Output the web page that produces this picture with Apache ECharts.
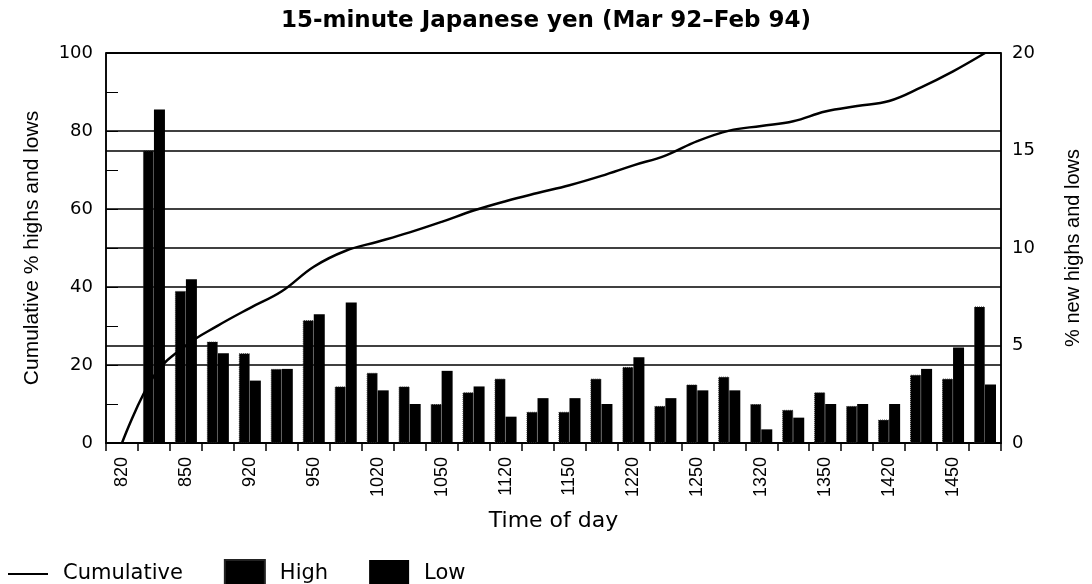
<!DOCTYPE html>
<html>
<head>
<meta charset="utf-8">
<script src="https://cdn.jsdelivr.net/npm/echarts@6/dist/echarts.min.js"></script>
<style>
html,body{margin:0;padding:0;background:#fff;}
#c{width:1092px;height:584px;}
</style>
</head>
<body>
<div id="c"></div>
<script>
// ---- data ----
var title = '15-minute Japanese yen (Mar 92\u2013Feb 94)';
var times = ['820','835','850','905','920','935','950','1005','1020','1035','1050','1105','1120','1135','1150','1205','1220','1235','1250','1305','1320','1335','1350','1405','1420','1435','1450','1505'];
var cumulative = [0, 17.2, 25.0, 30.1, 34.6, 38.9, 45.2, 49.3, 51.6, 54.0, 56.7, 59.6, 62.0, 64.1, 66.1, 68.5, 71.2, 73.7, 77.4, 80.1, 81.3, 82.5, 85.0, 86.4, 87.7, 91.2, 95.3, 100];
var high = [null, 15.0, 7.8, 5.2, 4.6, 3.8, 6.3, 2.9, 3.6, 2.9, 2.0, 2.6, 3.3, 1.6, 1.6, 3.3, 3.9, 1.9, 3.0, 3.4, 2.0, 1.7, 2.6, 1.9, 1.2, 3.5, 3.3, 7.0];
var low = [null, 17.1, 8.4, 4.6, 3.2, 3.8, 6.6, 7.2, 2.7, 2.0, 3.7, 2.9, 1.35, 2.3, 2.3, 2.0, 4.4, 2.3, 2.7, 2.7, 0.7, 1.3, 2.0, 2.0, 2.0, 3.8, 4.9, 3.0];
var leftTicks = [0, 20, 40, 60, 80, 100];
var rightTicks = [0, 5, 10, 15, 20];

var FONT = 'DejaVu Sans';
var ROT = 'Liberation Sans';
var chart = echarts.init(document.getElementById('c'), null, {renderer: 'canvas'});
chart.setOption({
  backgroundColor: '#fff',
  animation: false,
  title: {
    text: title, left: 'center', top: 5,
    textStyle: {fontFamily: FONT, fontWeight: 'bold', fontSize: 23, color: '#000'}
  },
  legend: {
    left: 3, top: 554, itemWidth: 40, itemHeight: 28, itemGap: 41,
    textStyle: {fontFamily: FONT, fontSize: 21, color: '#000', padding: [0, 0, 0, 10]},
    data: [
      {name: 'Cumulative', icon: 'path://M0,0 L40,0 L40,2 L0,2 Z'},
      {name: 'High', icon: 'rect'},
      {name: 'Low', icon: 'rect'}
    ]
  },
  grid: {
    left: 106, right: 91, top: 53, bottom: 141,
    show: true, borderColor: '#000', borderWidth: 1.5, backgroundColor: 'transparent'
  },
  xAxis: {
    type: 'category', data: times, boundaryGap: true,
    name: 'Time of day', nameLocation: 'middle', nameGap: 67,
    nameTextStyle: {fontFamily: FONT, fontSize: 22, color: '#000'},
    axisLine: {lineStyle: {color: '#000', width: 1.5}},
    axisTick: {show: true, interval: 0, length: 8, lineStyle: {color: '#000', width: 1.5}},
    axisLabel: {interval: 1, rotate: 90, margin: 14, fontFamily: ROT, fontSize: 18, color: '#000'},
    splitLine: {show: false}
  },
  yAxis: [
    {
      type: 'value', position: 'left', min: leftTicks[0], max: leftTicks[leftTicks.length - 1],
      interval: leftTicks[1] - leftTicks[0],
      name: 'Cumulative % highs and lows', nameLocation: 'middle', nameGap: 63, nameRotate: 90,
      nameTextStyle: {fontFamily: ROT, fontSize: 21, color: '#000'},
      axisLine: {show: true, lineStyle: {color: '#000', width: 1.5}},
      axisTick: {show: true, inside: true, length: 12, lineStyle: {color: '#000', width: 1}},
      minorTick: {show: true, splitNumber: 2, length: 12, lineStyle: {color: '#000', width: 1}},
      axisLabel: {margin: 13, fontFamily: FONT, fontSize: 18, color: '#000'},
      splitLine: {show: true, lineStyle: {color: '#000', width: 1.5}}
    },
    {
      type: 'value', position: 'right', min: rightTicks[0], max: rightTicks[rightTicks.length - 1],
      interval: rightTicks[1] - rightTicks[0],
      name: '% new highs and lows', nameLocation: 'middle', nameGap: 62, nameRotate: 90,
      nameTextStyle: {fontFamily: ROT, fontSize: 20, color: '#000'},
      axisLine: {show: true, lineStyle: {color: '#000', width: 1.5}},
      axisTick: {show: false},
      axisLabel: {margin: 11, fontFamily: FONT, fontSize: 18, color: '#000'},
      splitLine: {show: true, lineStyle: {color: '#000', width: 1.5}}
    }
  ],
  series: [
    {
      name: 'Cumulative', type: 'line', yAxisIndex: 0, data: cumulative,
      smooth: 0.4, symbol: 'none', z: 5,
      lineStyle: {color: '#000', width: 2.5}, itemStyle: {color: '#000'}
    },
    {
      name: 'High', type: 'bar', yAxisIndex: 1, data: high, barWidth: 11, barGap: '0%', z: 3,
      itemStyle: {color: '#000', borderColor: '#222', borderWidth: 1, borderType: 'dotted'}
    },
    {
      name: 'Low', type: 'bar', yAxisIndex: 1, data: low, barWidth: 11, barGap: '0%', z: 3,
      itemStyle: {color: '#000'}
    }
  ]
});
</script>
</body>
</html>
